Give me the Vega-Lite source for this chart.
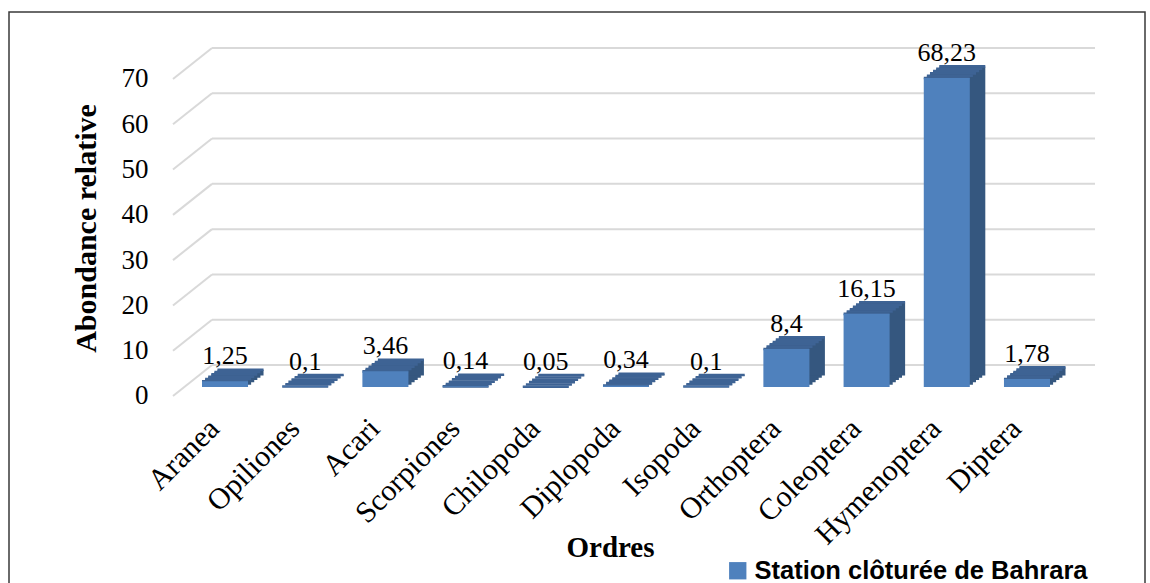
{
  "$schema": "https://vega.github.io/schema/vega-lite/v6.json",
  "autosize": {"type": "none"},
  "width": 1136,
  "height": 580,
  "padding": {"left": 9, "top": 12, "right": 5, "bottom": 0},
  "background": "white",
  "config": {
    "view": {"stroke": "#3a3a3a", "strokeWidth": 1.5},
    "locale": {"number": {"decimal": ",", "thousands": " ", "grouping": [3], "currency": ["", " €"]}},
    "font": "Liberation Serif",
    "axis": {"labelFont": "Liberation Serif", "titleFont": "Liberation Serif"},
    "text": {"font": "Liberation Serif"}
  },
  "data": {
    "values": [
      {"ordre": "Aranea", "v": 1.25, "station": "Station clôturée de Bahrara"},
      {"ordre": "Opiliones", "v": 0.1, "station": "Station clôturée de Bahrara"},
      {"ordre": "Acari", "v": 3.46, "station": "Station clôturée de Bahrara"},
      {"ordre": "Scorpiones", "v": 0.14, "station": "Station clôturée de Bahrara"},
      {"ordre": "Chilopoda", "v": 0.05, "station": "Station clôturée de Bahrara"},
      {"ordre": "Diplopoda", "v": 0.34, "station": "Station clôturée de Bahrara"},
      {"ordre": "Isopoda", "v": 0.1, "station": "Station clôturée de Bahrara"},
      {"ordre": "Orthoptera", "v": 8.4, "station": "Station clôturée de Bahrara"},
      {"ordre": "Coleoptera", "v": 16.15, "station": "Station clôturée de Bahrara"},
      {"ordre": "Hymenoptera", "v": 68.23, "station": "Station clôturée de Bahrara"},
      {"ordre": "Diptera", "v": 1.78, "station": "Station clôturée de Bahrara"}
    ]
  },
  "layer": [
    {
      "data": {"values": [{"g": 0}, {"g": 10}, {"g": 20}, {"g": 30}, {"g": 40}, {"g": 50}, {"g": 60}, {"g": 70}]},
      "mark": {"type": "rule", "color": "#d9d9d9", "strokeWidth": 2, "yOffset": -31},
      "encoding": {
        "y": {
          "field": "g", "type": "quantitative",
          "scale": {"domain": [-43.28, 84.79], "nice": false, "zero": false},
          "axis": {
            "values": [0, 10, 20, 30, 40, 50, 60, 70],
            "offset": -139, "domain": false, "ticks": false, "grid": false,
            "labelPadding": 0, "labelFont": "Liberation Serif", "labelFontSize": 27, "labelColor": "black",
            "title": "Abondance relative", "titleFont": "Liberation Serif", "titleFontSize": 30, "titleFontWeight": "bold",
            "titleColor": "black", "titleX": -53, "titleY": 216, "titleBaseline": "alphabetic", "titleAngle": -90, "titleAlign": "center"
          }
        },
        "x": {"value": 203},
        "x2": {"value": 1086}
      }
    },
    {
      "data": {"values": [{"g": 0}, {"g": 10}, {"g": 20}, {"g": 30}, {"g": 40}, {"g": 50}, {"g": 60}, {"g": 70}]},
      "mark": {"type": "rule", "color": "#d9d9d9", "strokeWidth": 2, "y2Offset": -31},
      "encoding": {
        "y": {"field": "g", "type": "quantitative"},
        "y2": {"field": "g"},
        "x": {"value": 164},
        "x2": {"value": 203}
      }
    },
    {
      "mark": {"type": "bar", "color": "#35577f", "xOffset": 3.1, "yOffset": -11.32, "y2Offset": -11.32},
      "encoding": {
        "x": {
          "field": "ordre", "type": "nominal", "sort": null,
          "scale": {"range": [152.9, 1081.1], "paddingInner": 0.426, "paddingOuter": 0.5},
          "axis": {
            "offset": -181, "domain": false, "ticks": false, "grid": false,
            "labelAngle": -45, "labelAlign": "right", "labelBaseline": "top", "labelPadding": 2, "labelOffset": -21,
            "labelFont": "Liberation Serif", "labelFontSize": 30, "labelColor": "black",
            "title": "Ordres", "titleFont": "Liberation Serif", "titleFontSize": 29, "titleFontWeight": "bold",
            "titleColor": "black", "titleX": 601, "titleY": 145, "titleBaseline": "alphabetic", "titleAlign": "center"
          }
        },
        "y": {"field": "v", "type": "quantitative"},
        "y2": {"datum": 0}
      }
    },
    {
      "mark": {"type": "bar", "color": "#35577f", "xOffset": 6.2, "yOffset": -13.64, "y2Offset": -13.64},
      "encoding": {"x": {"field": "ordre", "type": "nominal", "sort": null}, "y": {"field": "v", "type": "quantitative"}, "y2": {"datum": 0}}
    },
    {
      "mark": {"type": "bar", "color": "#35577f", "xOffset": 9.3, "yOffset": -15.96, "y2Offset": -15.96},
      "encoding": {"x": {"field": "ordre", "type": "nominal", "sort": null}, "y": {"field": "v", "type": "quantitative"}, "y2": {"datum": 0}}
    },
    {
      "mark": {"type": "bar", "color": "#35577f", "xOffset": 12.4, "yOffset": -18.28, "y2Offset": -18.28},
      "encoding": {"x": {"field": "ordre", "type": "nominal", "sort": null}, "y": {"field": "v", "type": "quantitative"}, "y2": {"datum": 0}}
    },
    {
      "mark": {"type": "bar", "color": "#35577f", "xOffset": 15.5, "yOffset": -20.6, "y2Offset": -20.6},
      "encoding": {"x": {"field": "ordre", "type": "nominal", "sort": null}, "y": {"field": "v", "type": "quantitative"}, "y2": {"datum": 0}}
    },
    {
      "mark": {"type": "bar", "fill": "#3e6394", "stroke": "#3e6394", "strokeWidth": 2.6, "xOffset": 0, "yOffset": -9, "y2Offset": -9},
      "encoding": {"x": {"field": "ordre", "type": "nominal", "sort": null}, "y": {"field": "v", "type": "quantitative"}, "y2": {"field": "v"}}
    },
    {
      "mark": {"type": "bar", "fill": "#3e6394", "stroke": "#3e6394", "strokeWidth": 2.6, "xOffset": 3.1, "yOffset": -11.32, "y2Offset": -11.32},
      "encoding": {"x": {"field": "ordre", "type": "nominal", "sort": null}, "y": {"field": "v", "type": "quantitative"}, "y2": {"field": "v"}}
    },
    {
      "mark": {"type": "bar", "fill": "#3e6394", "stroke": "#3e6394", "strokeWidth": 2.6, "xOffset": 6.2, "yOffset": -13.64, "y2Offset": -13.64},
      "encoding": {"x": {"field": "ordre", "type": "nominal", "sort": null}, "y": {"field": "v", "type": "quantitative"}, "y2": {"field": "v"}}
    },
    {
      "mark": {"type": "bar", "fill": "#3e6394", "stroke": "#3e6394", "strokeWidth": 2.6, "xOffset": 9.3, "yOffset": -15.96, "y2Offset": -15.96},
      "encoding": {"x": {"field": "ordre", "type": "nominal", "sort": null}, "y": {"field": "v", "type": "quantitative"}, "y2": {"field": "v"}}
    },
    {
      "mark": {"type": "bar", "fill": "#3e6394", "stroke": "#3e6394", "strokeWidth": 2.6, "xOffset": 12.4, "yOffset": -18.28, "y2Offset": -18.28},
      "encoding": {"x": {"field": "ordre", "type": "nominal", "sort": null}, "y": {"field": "v", "type": "quantitative"}, "y2": {"field": "v"}}
    },
    {
      "mark": {"type": "bar", "fill": "#3e6394", "stroke": "#3e6394", "strokeWidth": 2.6, "xOffset": 15.5, "yOffset": -20.6, "y2Offset": -20.6},
      "encoding": {"x": {"field": "ordre", "type": "nominal", "sort": null}, "y": {"field": "v", "type": "quantitative"}, "y2": {"field": "v"}}
    },
    {
      "mark": {"type": "bar", "yOffset": -9, "y2Offset": -9},
      "encoding": {
        "x": {"field": "ordre", "type": "nominal", "sort": null},
        "y": {"field": "v", "type": "quantitative"},
        "y2": {"datum": 0},
        "color": {
          "field": "station", "type": "nominal",
          "scale": {"range": ["#4f81bd"]},
          "legend": {
            "title": null, "orient": "none", "legendX": 716, "legendY": 546, "padding": 0,
            "symbolType": "square", "symbolSize": 300, "symbolStrokeWidth": 0, "symbolOpacity": 1,
            "labelFont": "Liberation Sans", "labelFontSize": 25.5, "labelFontWeight": "bold", "labelColor": "black",
            "labelOffset": 4, "labelLimit": 500
          }
        }
      }
    },
    {
      "mark": {"type": "text", "font": "Liberation Serif", "fontSize": 26, "color": "black", "align": "center", "baseline": "alphabetic", "yOffset": -26},
      "encoding": {
        "x": {"field": "ordre", "type": "nominal", "sort": null},
        "y": {"field": "v", "type": "quantitative"},
        "text": {"field": "v", "type": "quantitative", "format": ".2~f"}
      }
    }
  ]
}
